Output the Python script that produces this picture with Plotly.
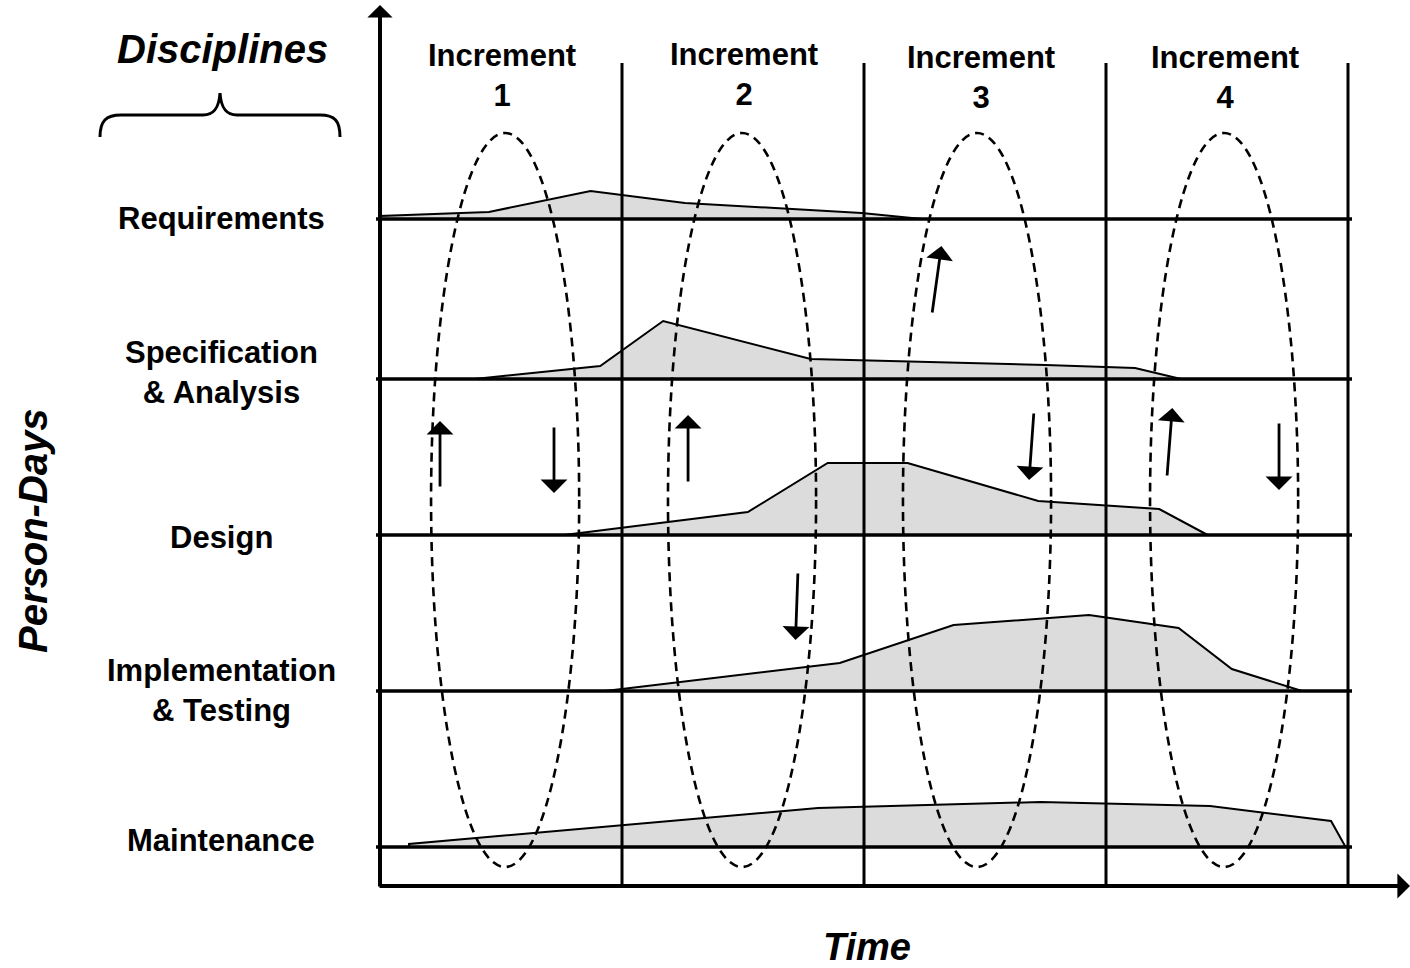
import plotly.graph_objects as go

# ---------------- data ----------------
disciplines = ["Requirements", "Specification<br>& Analysis", "Design",
               "Implementation<br>& Testing", "Maintenance"]
increments = ["Increment<br>1", "Increment<br>2", "Increment<br>3", "Increment<br>4"]

# effort profiles: time (in increments) and person-days height above lane baseline
req_t = [0.0, 0.45, 0.87, 1.26, 1.99, 2.24]
req_h = [3, 7, 28, 16, 6, 0]
spec_t = [0.39, 0.91, 1.17, 1.78, 2.75, 3.12, 3.31]
spec_h = [0, 13, 58, 20, 14, 11, 0]
design_t = [0.76, 1.52, 1.85, 2.18, 2.72, 3.22, 3.42]
design_h = [0, 23, 72, 72, 34, 26, 0]
impl_t = [0.93, 1.90, 2.37, 2.93, 3.30, 3.52, 3.81]
impl_h = [0, 28, 66, 76, 63, 22, 0]
maint_t = [0.12, 1.81, 2.73, 3.43, 3.93, 3.99]
maint_h = [3, 39, 45, 41, 26, 0]

# iteration arrows (tail t, tail y, tip t, tip y)
arrow_tail_t = [0.248, 0.719, 1.273, 1.727, 2.281, 2.702, 3.252, 3.715]
arrow_tail_y = [359, 421, 364, 275, 533, 435, 370, 425]
arrow_tip_t = [0.248, 0.719, 1.273, 1.717, 2.320, 2.682, 3.274, 3.715]
arrow_tip_y = [426, 354, 432, 207, 601, 367, 439, 357]

# ---------------- layout constants ----------------
W, H = 1410, 968
X0, TPX = 380, 242          # pixel of t=0, pixels per increment
Y0 = 847                    # pixel of effort 0 (maintenance baseline)
lane_base = [628, 468, 312, 156, 0]   # baseline of each discipline lane

def tx(px):
    return (px - X0) / TPX

def ey(py):
    return Y0 - py

FONT = "Liberation Sans, Arial, sans-serif"
fig = go.Figure()

profiles = [(req_t, req_h), (spec_t, spec_h), (design_t, design_h),
            (impl_t, impl_h), (maint_t, maint_h)]
for (ts, hs), base in zip(profiles, lane_base):
    xs = [ts[0]] + list(ts) + [ts[-1], ts[0]]
    ys = [base] + [base + h for h in hs] + [base, base]
    fig.add_trace(go.Scatter(x=xs, y=ys, mode="lines", fill="toself",
                             fillcolor="#dcdcdc",
                             line=dict(color="black", width=2),
                             hoverinfo="skip", showlegend=False))

shapes = []
# lane baselines
for base in lane_base:
    shapes.append(dict(type="line", xref="x", yref="y", x0=tx(376), x1=tx(1352),
                       y0=base, y1=base, line=dict(color="black", width=3.6),
                       layer="above"))
# increment boundaries
for i in range(1, 5):
    shapes.append(dict(type="line", xref="x", yref="y", x0=i, x1=i,
                       y0=ey(63), y1=ey(886), line=dict(color="black", width=3),
                       layer="above"))
# dashed iteration ellipses
ell_centers = [0.517, 1.496, 2.467, 3.488]
for c in ell_centers:
    shapes.append(dict(type="circle", xref="x", yref="y",
                       x0=c - 0.306, x1=c + 0.306, y0=ey(867), y1=ey(133),
                       line=dict(color="black", width=2.6, dash="9px,6px"),
                       layer="above"))
# brace under "Disciplines"
def P(px, py):
    return f"{tx(px)},{ey(py)}"
brace = (f"M {P(100,137)} C {P(100,121)} {P(106,115)} {P(121,115)} L {P(203,115)} "
         f"C {P(214,115)} {P(219,108)} {P(220,93)} C {P(221,108)} {P(226,115)} {P(237,115)} "
         f"L {P(320,115)} C {P(335,115)} {P(340,121)} {P(340,137)}")
shapes.append(dict(type="path", xref="x", yref="y", path=brace,
                   line=dict(color="black", width=3)))

annotations = []
# axes arrows
annotations.append(dict(x=0, y=ey(5), ax=0, ay=ey(888), xref="x", yref="y",
                        axref="x", ayref="y", showarrow=True, arrowhead=1,
                        arrowsize=1.05, arrowwidth=4, arrowcolor="black", text=""))
annotations.append(dict(x=tx(1410), y=ey(886), ax=tx(378), ay=ey(886), xref="x", yref="y",
                        axref="x", ayref="y", showarrow=True, arrowhead=1,
                        arrowsize=1.05, arrowwidth=4, arrowcolor="black", text=""))
# iteration arrows
for a, b, c, d in zip(arrow_tail_t, arrow_tail_y, arrow_tip_t, arrow_tip_y):
    annotations.append(dict(x=c, y=d, ax=a, ay=b, xref="x", yref="y",
                            axref="x", ayref="y", showarrow=True, arrowhead=1,
                            arrowsize=1.6, arrowwidth=2.8, arrowcolor="black", text=""))

# discipline labels
label_y = [ey(218), ey(372), ey(537), ey(690), ey(840)]
for name, y in zip(disciplines, label_y):
    annotations.append(dict(x=tx(221), y=y, xref="x", yref="y", text=f"<b>{name}</b>",
                            showarrow=False, xanchor="center", yanchor="middle",
                            font=dict(family=FONT, size=31, color="black")))
# increment labels
inc_x = [502, 744, 981, 1225]
inc_y = [75, 74, 77, 77]
for name, px, py in zip(increments, inc_x, inc_y):
    annotations.append(dict(x=tx(px), y=ey(py), xref="x", yref="y", text=f"<b>{name}</b>",
                            showarrow=False, xanchor="center", yanchor="middle",
                            font=dict(family=FONT, size=31, color="black")))
annotations.append(dict(x=tx(222), y=ey(49), xref="x", yref="y",
                        text="<b><i>Disciplines</i></b>", showarrow=False,
                        xanchor="center", yanchor="middle",
                        font=dict(family=FONT, size=40, color="black")))
annotations.append(dict(x=tx(867), y=ey(947), xref="x", yref="y",
                        text="<b><i>Time</i></b>", showarrow=False,
                        xanchor="center", yanchor="middle",
                        font=dict(family=FONT, size=38, color="black")))
annotations.append(dict(x=tx(33), y=ey(531), xref="x", yref="y",
                        text="<b><i>Person-Days</i></b>", showarrow=False, textangle=-90,
                        xanchor="center", yanchor="middle",
                        font=dict(family=FONT, size=40, color="black")))

fig.update_layout(
    width=W, height=H, margin=dict(l=0, r=0, t=0, b=0),
    paper_bgcolor="white", plot_bgcolor="white",
    xaxis=dict(range=[tx(0), tx(W)], visible=False, fixedrange=True),
    yaxis=dict(range=[ey(H), ey(0)], visible=False, fixedrange=True),
    shapes=shapes, annotations=annotations, showlegend=False,
)

fig.write_html("out.html", config={"displayModeBar": False},
               post_script="document.body.style.margin='0';")
